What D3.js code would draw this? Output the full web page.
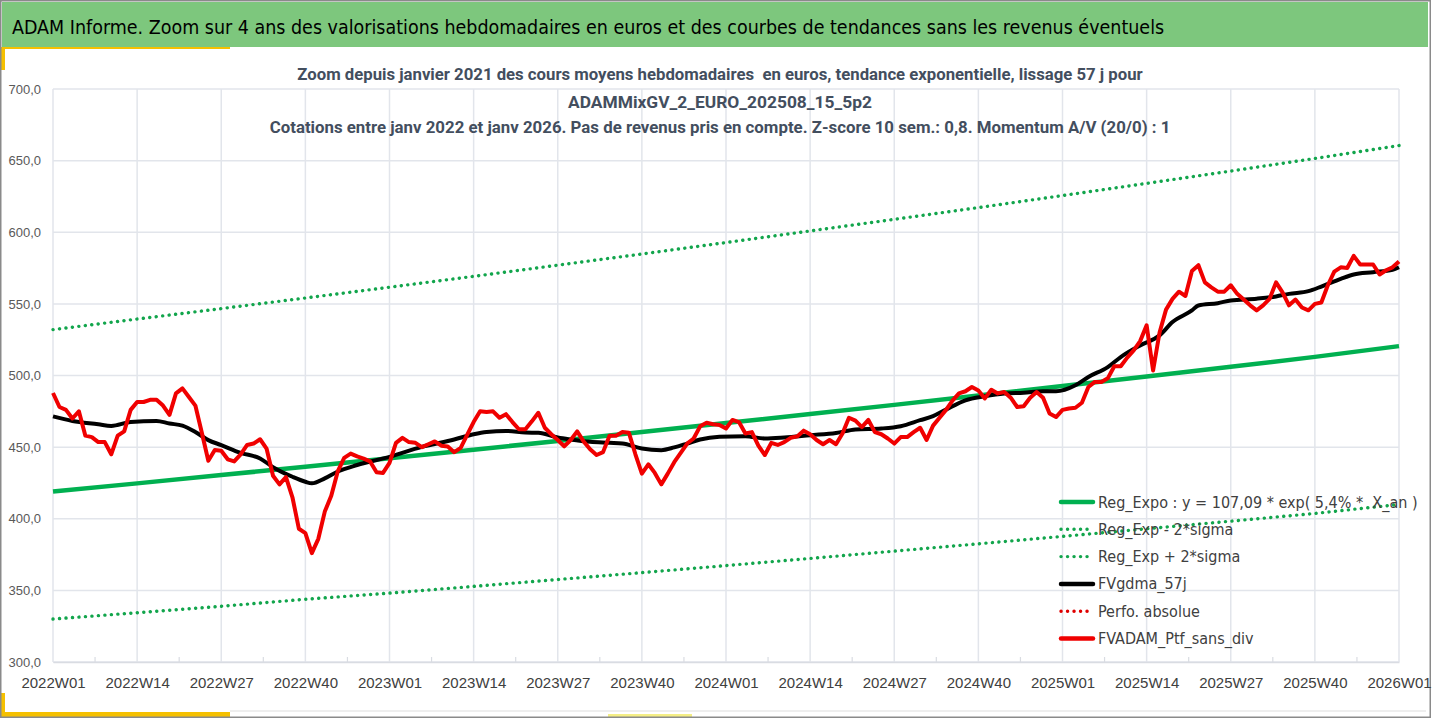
<!DOCTYPE html>
<html>
  <head>
    <meta charset="utf-8">
    <title>ADAM Informe</title>
    <script src="https://cdnjs.cloudflare.com/ajax/libs/d3/7.8.5/d3.min.js"></script>
    <style>
      body { margin: 0; background-color: #FFF; }
      svg { display: block; font-family: "Liberation Sans Narrow", "DejaVu Sans Condensed", sans-serif; }
    </style>
  </head>
  <body>
    <svg width="1432" height="719"></svg>
    <script>
      // ---- donnees ----
      var xTickLabels = ["2022W01","2022W14","2022W27","2022W40","2023W01","2023W14","2023W27","2023W40",
                         "2024W01","2024W14","2024W27","2024W40","2025W01","2025W14","2025W27","2025W40","2026W01"];
      var yTicks = [300, 350, 400, 450, 500, 550, 600, 650, 700];

      // FVADAM_Ptf_sans_div, une valeur par semaine depuis 2022W01
      var fvadam = [
        487.8, 478, 476, 470, 475, 458, 457, 453.5, 453.5, 445,
        458, 461, 476, 481.5, 481.5, 483, 483, 479, 472.5, 487.5,
        491, 485, 479, 460, 440.5, 448, 447.5, 441.5, 440, 445,
        451.5, 452.5, 455.5, 449, 430, 424, 429, 415, 393, 390,
        376, 386, 405, 416, 433, 442.5, 445.5, 443.5, 442, 440,
        432.5, 432, 439, 453, 456.5, 453.5, 453, 450, 452, 454,
        451, 450.5, 446.5, 449.5, 458.5, 467.5, 475, 474.5, 475, 470.5,
        473, 467.5, 462.5, 462.5, 468, 474, 463.5, 459, 455, 450.5,
        455, 461, 454, 448.5, 444.5, 446.5, 458, 458, 460.5, 460,
        445, 431.5, 438, 432, 424, 431.5, 439.5, 446, 452.5, 456,
        464.5, 467, 466, 465.5, 463, 469, 467.5, 459.5, 460.5, 451,
        444.5, 453, 451.5, 453.5, 456.5, 457.5, 461.5, 459, 455, 452,
        455, 452, 459.5, 470.5, 468.5, 464, 469, 460.5, 459, 456,
        452.5, 457, 457, 460.5, 463.5, 455, 465, 470.5, 476, 482.5,
        487.5, 489, 492, 489.5, 484, 490, 487.5, 488.5, 484.5, 478,
        478.5, 484.5, 488.5, 484.5, 473.5, 471, 476, 477, 477.5, 481,
        492, 495.5, 495.5, 498, 506.5, 506.5, 512.5, 517.5, 524, 535,
        503.5, 530, 546, 553.5, 558.5, 555.5, 573, 577, 565, 561.5,
        558.5, 558.5, 563, 557, 553, 549, 545.5, 549, 553.5, 565,
        558, 549, 553, 547.5, 545.5, 550, 551, 563, 572.5, 575.5,
        575, 583.5, 577.5, 577.5, 577.5, 570.5, 573.5, 575.5, 579.5
      ];

      // FVgdma_57j, points releves (semaine, valeur)
      var gdmaWeeks  = [0, 3, 7, 9, 12, 16, 18, 20, 22, 24, 26, 29, 32, 34, 37, 39, 40, 42, 44, 47,
                        52, 57, 62, 65, 67, 70, 73, 75, 78, 80, 83, 86, 88, 91, 94, 96, 98, 100, 103, 107,
                        110, 113, 117, 121, 124, 128, 131, 134, 136, 138, 141, 144, 147, 150, 153, 155, 158, 160, 163, 165,
                        168, 171, 173, 176, 177, 180, 182, 186, 189, 191, 194, 196, 199, 201, 204, 207, 208];
      var gdmaValues = [471.5, 468.3, 466, 464.8, 467.6, 468.3, 466.5, 465, 460.6, 454.9, 451.4, 446, 442.1, 436, 429.3, 425.8, 424.7, 428.2, 433, 437.5,
                        443.2, 450.2, 455.3, 459, 460.6, 461.3, 460.2, 460, 456.7, 455.3, 453.7, 453, 452.5, 449, 447.9, 449.8, 452.5, 455.3, 457.2, 457.6,
                        456, 456.7, 458.3, 459.9, 462.3, 463, 464.6, 468.8, 471.6, 476.2, 482.7, 485.5, 487.4, 488, 489, 489, 493.2, 499, 505.9, 512.9,
                        521, 528, 537.3, 545.4, 548.9, 550.5, 552.4, 553.6, 555.2, 557, 558.9, 562.1, 567.5, 570.5, 572.1, 573.8, 575.6];

      // Regression exponentielle et bandes +/- 2 sigma, relevees a chaque graduation
      var trendWeeks  = [0, 13, 26, 39, 52, 65, 78, 91, 104, 117, 130, 143, 156, 169, 182, 195, 208];
      var regExpo     = [419, 424.7, 430.5, 436.3, 442.2, 448.2, 454.3, 460.5, 466.8, 473.1, 479.5, 486, 492.6, 499.3, 506.1, 513, 520.5];
      var regExpPlus  = [532, 539.4, 546.7, 554.1, 561.6, 569.2, 577, 584.8, 592.8, 600.9, 609, 617.2, 625.6, 634.1, 642.7, 651.5, 660.5];
      var regExpMoins = [330, 334.4, 338.9, 343.8, 348.1, 352.8, 357.6, 362.4, 367.3, 372.3, 377.4, 382.5, 387.7, 393, 398.3, 403.7, 410];

      var legendLabels = ["Reg_Expo : y = 107,09 * exp( 5,4% *  X_an )", "Reg_Exp - 2*sigma", "Reg_Exp + 2*sigma",
                          "FVgdma_57j", "Perfo. absolue", "FVADAM_Ptf_sans_div"];

      var svg = d3.select("svg");
      var W = 1432, H = 719;
      var plotL = 53, plotR = 1399, plotT = 89, plotB = 662;

      var x = d3.scaleLinear().domain([0, 208]).range([plotL, plotR]);
      var y = d3.scaleLinear().domain([300, 700]).range([plotB, plotT]);

      // ajuste la taille de police pour obtenir la largeur voulue
      function fitWidth(sel, target) {
        sel.each(function() {
          var fs = parseFloat(this.getAttribute("font-size"));
          var w = this.getComputedTextLength();
          if (w > 0) this.setAttribute("font-size", (fs * target / w).toFixed(2));
        });
      }

      // cadre, bandeau
      svg.append("rect").attr("x", 0).attr("y", 0).attr("width", W).attr("height", H).attr("fill", "#FFF");
      svg.append("rect").attr("x", 2).attr("y", 2).attr("width", 1426).attr("height", 45).attr("fill", "#7DC77D");
      svg.append("text").attr("x", 12).attr("y", 34)
        .attr("font-size", 22).attr("fill", "#000")
        .text("ADAM Informe. Zoom sur 4 ans des valorisations hebdomadaires en euros et des courbes de tendances sans les revenus éventuels")
        .call(fitWidth, 1153);

      svg.append("rect").attr("x", 0).attr("y", 47).attr("width", 230).attr("height", 2).attr("fill", "#F5C000");
      svg.append("rect").attr("x", 0).attr("y", 47).attr("width", 5).attr("height", 23).attr("fill", "#F5C000");
      svg.append("rect").attr("x", 0).attr("y", 712).attr("width", 230).attr("height", 5).attr("fill", "#F5C000");
      svg.append("rect").attr("x", 0).attr("y", 693).attr("width", 5).attr("height", 20).attr("fill", "#F5C000");
      svg.append("rect").attr("x", 608).attr("y", 714).attr("width", 84).attr("height", 3).attr("fill", "#F4EE86");
      svg.append("line").attr("x1", 230).attr("x2", 1426).attr("y1", 711).attr("y2", 711).attr("stroke", "#DDD");
      svg.append("rect").attr("x", 0.75).attr("y", 0.75).attr("width", W - 2.5).attr("height", H - 2.5)
        .attr("fill", "none").attr("stroke", "#8A8A8A").attr("stroke-width", 1.5);

      // grille
      var grid = svg.append("g");
      grid.selectAll(".hg").data(yTicks).enter().append("line")
        .attr("x1", plotL).attr("x2", plotR)
        .attr("y1", function(d) { return y(d); }).attr("y2", function(d) { return y(d); })
        .attr("stroke", "#E2E5EB").attr("stroke-width", 1.5);
      grid.selectAll(".vg").data(trendWeeks).enter().append("line")
        .attr("x1", function(d) { return x(d); }).attr("x2", function(d) { return x(d); })
        .attr("y1", plotT).attr("y2", plotB)
        .attr("stroke", "#E2E5EB").attr("stroke-width", 1.5);
      grid.selectAll(".mt").data(d3.range(6.5, 208, 13)).enter().append("line")
        .attr("x1", function(d) { return x(d); }).attr("x2", function(d) { return x(d); })
        .attr("y1", plotB - 5).attr("y2", plotB)
        .attr("stroke", "#D9DCE2").attr("stroke-width", 1.2);

      // titre du graphique : police grasse, compressee horizontalement a la largeur lue
      var titles = [
        {t: "Zoom depuis janvier 2021 des cours moyens hebdomadaires  en euros, tendance exponentielle, lissage 57 j pour", y: 80, w: 846},
        {t: "ADAMMixGV_2_EURO_202508_15_5p2", y: 108, w: 304},
        {t: "Cotations entre janv 2022 et janv 2026. Pas de revenus pris en compte. Z-score 10 sem.: 0,8. Momentum A/V (20/0) : 1", y: 133, w: 901}
      ];
      svg.selectAll(".title").data(titles).enter().append("text")
        .attr("class", "title")
        .attr("x", 0).attr("y", 0)
        .attr("text-anchor", "middle")
        .attr("font-family", "Roboto, 'Open Sans', sans-serif")
        .attr("font-size", 16.5).attr("font-weight", "bold").attr("fill", "#434E5E")
        .style("white-space", "pre")
        .text(function(d) { return d.t; })
        .each(function(d) {
          var k = d.w / this.getComputedTextLength();
          this.setAttribute("transform", "translate(720," + d.y + ") scale(" + k.toFixed(4) + ",1)");
        });

      // axes
      var yAxis = svg.append("g").attr("transform", "translate(" + (plotL - 9) + ",0)")
        .call(d3.axisLeft(y).tickValues(yTicks).tickSize(0).tickFormat(function(d) { return d3.format(".1f")(d).replace(".", ","); }));
      yAxis.select(".domain").remove();
      yAxis.selectAll("text").attr("font-size", 13).attr("fill", "#595959").attr("font-family", null);

      var xAxis = svg.append("g").attr("transform", "translate(0," + plotB + ")")
        .call(d3.axisBottom(x).tickValues(trendWeeks).tickSize(0).tickPadding(15)
          .tickFormat(function(d, i) { return xTickLabels[i]; }));
      xAxis.select(".domain").attr("stroke", "#D9DCE2").attr("stroke-width", 1.5);
      xAxis.selectAll("text").attr("font-size", 15).attr("fill", "#404040").attr("font-family", null);

      // courbes
      var trendLine = d3.line().x(function(d, i) { return x(trendWeeks[i]); }).y(function(d) { return y(d); });
      var dotted = function(sel, color) {
        sel.attr("fill", "none").attr("stroke", color).attr("stroke-width", 3.4)
          .attr("stroke-linecap", "round").attr("stroke-dasharray", "0.1 6.4");
      };
      svg.append("path").attr("d", trendLine(regExpMoins)).call(dotted, "#12A54C");
      svg.append("path").attr("d", trendLine(regExpPlus)).call(dotted, "#12A54C");
      svg.append("path").attr("d", trendLine(regExpo))
        .attr("fill", "none").attr("stroke", "#00B050").attr("stroke-width", 4.5);

      var gdmaLine = d3.line().curve(d3.curveMonotoneX)
        .x(function(d, i) { return x(gdmaWeeks[i]); }).y(function(d) { return y(d); });
      svg.append("path").attr("d", gdmaLine(gdmaValues))
        .attr("fill", "none").attr("stroke", "#000").attr("stroke-width", 4).attr("stroke-linejoin", "round");

      var fvLine = d3.line().x(function(d, i) { return x(i); }).y(function(d) { return y(d); });
      svg.append("path").attr("d", fvLine(fvadam))
        .attr("fill", "none").attr("stroke", "#F00000").attr("stroke-width", 4).attr("stroke-linejoin", "round");

      // legende
      var legStyles = [
        {c: "#00B050", dash: null},
        {c: "#12A54C", dash: "0.1 6.4"},
        {c: "#12A54C", dash: "0.1 6.4"},
        {c: "#000", dash: null},
        {c: "#E00000", dash: "0.1 6.4"},
        {c: "#F00000", dash: null}
      ];
      var leg = svg.append("g").selectAll("g").data(legendLabels).enter().append("g")
        .attr("transform", function(d, i) { return "translate(1060," + (502 + i * 27.3) + ")"; });
      leg.append("line").attr("x1", 1).attr("x2", 33).attr("y1", 0).attr("y2", 0)
        .attr("stroke", function(d, i) { return legStyles[i].c; })
        .attr("stroke-width", function(d, i) { return legStyles[i].dash ? 3.4 : 4.5; })
        .attr("stroke-linecap", "round")
        .attr("stroke-dasharray", function(d, i) { return legStyles[i].dash; });
      leg.append("text").attr("x", 38).attr("y", 5.5)
        .attr("font-size", 16).attr("fill", "#404040")
        .style("white-space", "pre")
        .text(function(d) { return d; });
    </script>
  </body>
</html>
